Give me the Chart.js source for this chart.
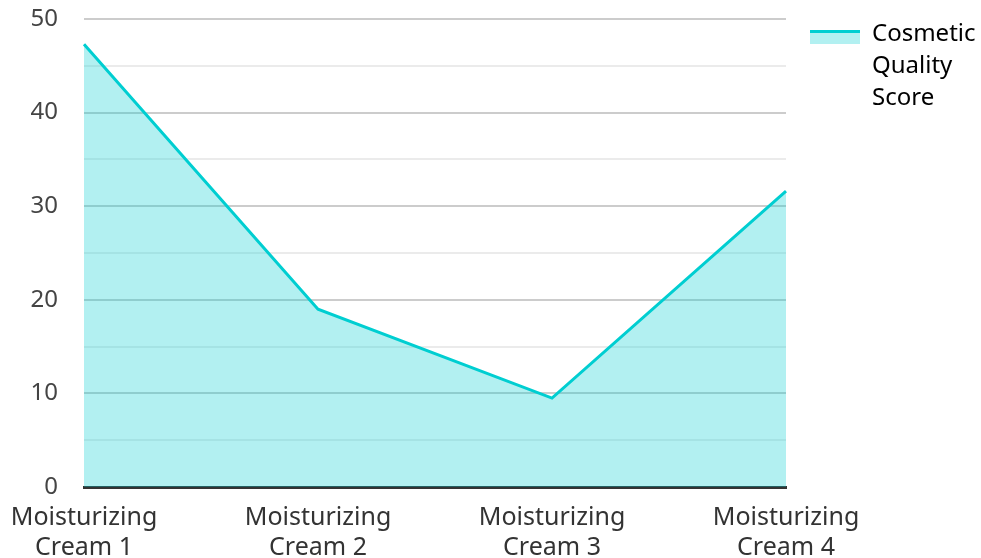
<!DOCTYPE html>
<html>
<head>
<meta charset="utf-8">
<script src="https://cdn.jsdelivr.net/npm/chart.js@4/dist/chart.umd.min.js"></script>
<style>
  html, body { margin: 0; padding: 0; background: #fff; }
  #wrap { width: 981px; height: 558px; position: relative; }
</style>
</head>
<body>
<div id="wrap"><canvas id="chart"></canvas></div>
<script>
const categories = [
  ['Moisturizing', 'Cream 1'],
  ['Moisturizing', 'Cream 2'],
  ['Moisturizing', 'Cream 3'],
  ['Moisturizing', 'Cream 4']
]
const scores = [47.3, 19.0, 9.5, 31.6]
const seriesLabel = ['Cosmetic', 'Quality', 'Score']
const yTicks = [0, 10, 20, 30, 40, 50]

const lineColor = '#00ced1'
const fillColor = 'rgba(0, 206, 209, 0.3)'

// legend swatch: a filled area with the line along its top
const legendSwatch = {
  id: 'legendSwatch',
  afterDraw(chart) {
    const legend = chart.legend
    if (!legend || !legend.legendHitBoxes.length) return
    const box = legend.legendHitBoxes[0]
    const ctx = chart.ctx
    const w = legend.options.labels.boxWidth
    ctx.save()
    ctx.fillStyle = fillColor
    ctx.fillRect(box.left, box.top + 8, w, 14)
    ctx.strokeStyle = lineColor
    ctx.lineWidth = 3
    ctx.beginPath()
    ctx.moveTo(box.left, box.top + 9.5)
    ctx.lineTo(box.left + w, box.top + 9.5)
    ctx.stroke()
    ctx.restore()
  }
}

Chart.defaults.font.family = '"Noto Sans", "Open Sans", sans-serif'
Chart.defaults.font.size = 24
Chart.defaults.color = '#444'

new Chart(document.getElementById('chart'), {
  type: 'line',
  data: {
    labels: categories,
    datasets: [{
      label: seriesLabel,
      data: scores,
      borderColor: lineColor,
      backgroundColor: fillColor,
      borderWidth: 3,
      fill: 'origin',
      tension: 0,
      pointRadius: 0
    }]
  },
  options: {
    responsive: true,
    maintainAspectRatio: false,
    animation: false,
    layout: { padding: { top: -2, right: 0, left: 0, bottom: 0 } },
    plugins: {
      tooltip: { enabled: false },
      legend: {
        position: 'right',
        align: 'start',
        maxWidth: 195,
        labels: {
          boxWidth: 50,
          boxHeight: 14,
          padding: 24,
          color: '#333',
          font: { size: 24, lineHeight: 1.33 },
          generateLabels: chart => [{
            text: seriesLabel,
            fillStyle: 'rgba(0,0,0,0)',
            strokeStyle: 'rgba(0,0,0,0)',
            lineWidth: 0,
            datasetIndex: 0
          }]
        }
      }
    },
    scales: {
      x: {
        offset: false,
        grid: { display: false, drawTicks: false },
        border: { display: true, color: '#333', width: 3 },
        ticks: { maxRotation: 0, autoSkip: false, padding: 16, color: '#333', font: { size: 25, lineHeight: 1.2 } },
        afterFit: scale => {
          scale.height = 71
          scale.paddingLeft = 84
          scale.paddingRight = 0
        }
      },
      y: {
        min: 0,
        max: 50,
        grid: {
          drawTicks: false,
          color: ctx => (ctx.tick && ctx.tick.value % 10 === 0) ? 'rgba(0,0,0,0.2)' : 'rgba(0,0,0,0.08)',
          lineWidth: 2
        },
        border: { display: false },
        ticks: {
          stepSize: 5,
          padding: 26,
          color: '#444',
          callback: v => yTicks.includes(v) ? v : ''
        },
        afterFit: scale => {
          scale.paddingTop = 19
          scale.paddingBottom = 10
        }
      }
    }
  },
  plugins: [legendSwatch]
})
</script>
</body>
</html>
